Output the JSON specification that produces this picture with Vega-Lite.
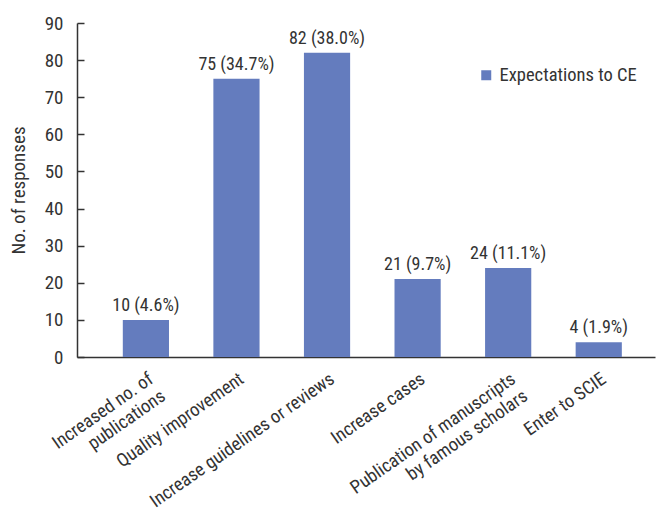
{
  "$schema": "https://vega.github.io/schema/vega-lite/v6.json",
  "autosize": {"type": "none"},
  "padding": {"left": 77, "top": 23, "right": 2, "bottom": 153},
  "width": 578,
  "height": 334,
  "background": "white",
  "config": {
    "view": {"stroke": null},
    "font": "Roboto Condensed, DejaVu Sans Condensed, Roboto, sans-serif",
    "axis": {"labelFont": "Roboto Condensed, DejaVu Sans Condensed, Roboto, sans-serif", "titleFont": "Roboto Condensed, DejaVu Sans Condensed, Roboto, sans-serif", "labelColor": "#333", "titleColor": "#333", "domainColor": "#333", "tickColor": "#333", "grid": false},
    "legend": {"labelFont": "Roboto Condensed, DejaVu Sans Condensed, Roboto, sans-serif", "labelColor": "#333"}
  },
  "data": {
    "values": [
      {"category": "Increased no. of|publications", "count": 10, "label": "10 (4.6%)", "series": "Expectations to CE"},
      {"category": "Quality improvement", "count": 75, "label": "75 (34.7%)", "series": "Expectations to CE"},
      {"category": "Increase guidelines or reviews", "count": 82, "label": "82 (38.0%)", "series": "Expectations to CE"},
      {"category": "Increase cases", "count": 21, "label": "21 (9.7%)", "series": "Expectations to CE"},
      {"category": "Publication of manuscripts|by famous scholars", "count": 24, "label": "24 (11.1%)", "series": "Expectations to CE"},
      {"category": "Enter to SCIE", "count": 4, "label": "4 (1.9%)", "series": "Expectations to CE"}
    ]
  },
  "encoding": {
    "x": {
      "field": "category", "type": "nominal", "sort": null,
      "scale": {"paddingInner": 0.49, "paddingOuter": 0.436, "align": 0.58},
      "axis": {"title": null, "labelAngle": -35, "labelFontSize": 18.5, "ticks": false, "labelPadding": 12, "labelExpr": "split(datum.label, '|')", "domainWidth": 1.5, "labelLimit": 400, "labelLineHeight": 21}
    },
    "y": {
      "field": "count", "type": "quantitative",
      "scale": {"domain": [0, 90]},
      "axis": {"title": "No. of responses", "values": [0,10,20,30,40,50,60,70,80,90], "tickSize": -7, "labelFontSize": 19, "titleFontSize": 19, "titleFontWeight": "normal", "labelPadding": 21, "titlePadding": 16, "domainWidth": 1.5, "tickWidth": 1.5}
    }
  },
  "layer": [
    {
      "mark": {"type": "bar", "color": "#647CBE"},
      "encoding": {
        "color": {
          "field": "series", "type": "nominal",
          "scale": {"range": ["#647CBE"]},
          "legend": {"title": null, "orient": "none", "legendX": 400, "legendY": 43, "symbolType": "square", "symbolSize": 100, "symbolStrokeWidth": 0, "labelFontSize": 18.5, "labelLimit": 300}
        }
      }
    },
    {
      "mark": {"type": "text", "dy": -14, "fontSize": 18, "color": "#333"},
      "encoding": {"text": {"field": "label"}}
    }
  ]
}
